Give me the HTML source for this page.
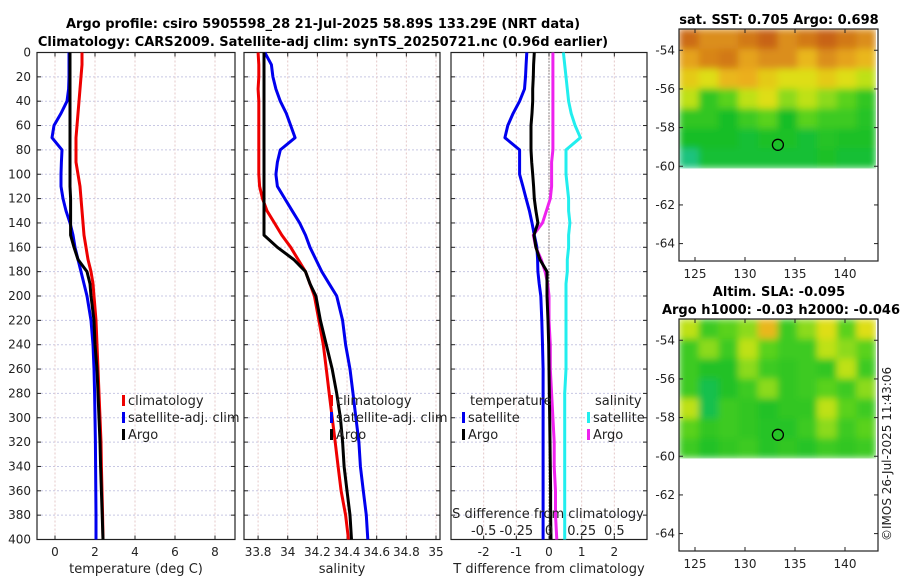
<!DOCTYPE html>
<html><head><meta charset="utf-8"><style>
body{margin:0;background:#fff;}
svg text{font-family:"DejaVu Sans","Liberation Sans",sans-serif;fill:#222;}
.tk{font-size:12px;}
.tt{font-size:13px;font-weight:bold;fill:#000;}
</style></head><body>
<svg id="chart" width="900" height="580" viewBox="0 0 900 580" xmlns="http://www.w3.org/2000/svg">
<defs>
<filter id="blur" x="0" y="0" width="1" height="1" filterUnits="objectBoundingBox"><feGaussianBlur stdDeviation="3.5" edgeMode="duplicate"/></filter>
</defs>
<text class="tt" x="323" y="28" text-anchor="middle">Argo profile: csiro 5905598_28 21-Jul-2025 58.89S 133.29E (NRT data)</text>
<text class="tt" x="323" y="46" text-anchor="middle">Climatology: CARS2009. Satellite-adj clim: synTS_20250721.nc (0.96d earlier)</text>
<g id="g"></g>
<text class="tt" x="779" y="24" text-anchor="middle">sat. SST: 0.705 Argo: 0.698</text>
<text class="tt" x="779" y="296" text-anchor="middle">Altim. SLA: -0.095</text>
<text class="tt" x="781" y="314" text-anchor="middle">Argo h1000: -0.03 h2000: -0.046</text>
<text class="tk" x="0" y="0" transform="translate(891,541) rotate(-90)">©IMOS 26-Jul-2025 11:43:06</text>
</svg>
<script>
const depths=[0,10,20,30,40,50,60,70,80,90,100,110,120,130,140,150,160,170,180,190,200,220,240,260,280,300,320,340,360,380,400];
const tClim=[1.35,1.35,1.3,1.25,1.2,1.15,1.1,1.05,1.05,1.05,1.15,1.25,1.3,1.35,1.4,1.45,1.55,1.65,1.8,1.9,1.95,2.05,2.1,2.15,2.2,2.25,2.3,2.32,2.35,2.38,2.4];
const tSat=[0.7,0.7,0.7,0.68,0.6,0.3,-0.05,-0.15,0.35,0.32,0.3,0.3,0.4,0.55,0.75,0.9,1.0,1.15,1.3,1.45,1.6,1.8,1.9,1.95,1.98,2.0,2.02,2.03,2.04,2.05,2.05];
const tArgo=[0.75,0.75,0.75,0.75,0.75,0.75,0.75,0.75,0.75,0.75,0.75,0.75,0.78,0.78,0.78,0.78,0.95,1.15,1.6,1.75,1.8,1.95,2.0,2.1,2.15,2.2,2.25,2.28,2.32,2.36,2.4];
const sClim=[33.8,33.805,33.805,33.8,33.805,33.805,33.805,33.805,33.805,33.805,33.805,33.81,33.83,33.86,33.91,33.96,34.02,34.07,34.12,34.15,34.18,34.21,34.24,34.26,34.28,34.3,34.32,34.34,34.36,34.39,34.41];
const sSat=[33.845,33.89,33.9,33.92,33.95,33.99,34.02,34.05,33.95,33.93,33.92,33.93,33.98,34.03,34.08,34.12,34.15,34.19,34.23,34.28,34.33,34.37,34.39,34.42,34.44,34.46,34.48,34.49,34.51,34.53,34.54];
const sArgo=[33.84,33.84,33.84,33.84,33.84,33.84,33.84,33.84,33.84,33.84,33.84,33.84,33.84,33.84,33.84,33.84,33.93,34.04,34.12,34.15,34.19,34.22,34.26,34.3,34.33,34.355,34.37,34.38,34.4,34.42,34.43];
const dTSat=[-0.68,-0.7,-0.72,-0.75,-0.9,-1.1,-1.26,-1.35,-0.9,-0.9,-0.9,-0.8,-0.7,-0.6,-0.52,-0.45,-0.37,-0.35,-0.34,-0.3,-0.25,-0.22,-0.2,-0.18,-0.18,-0.18,-0.18,-0.18,-0.18,-0.18,-0.18];
const dTArgo=[-0.45,-0.47,-0.48,-0.5,-0.5,-0.52,-0.55,-0.55,-0.55,-0.53,-0.5,-0.47,-0.45,-0.4,-0.34,-0.46,-0.4,-0.28,-0.06,-0.06,-0.06,-0.03,-0.01,0,0.01,0.02,0.03,0.04,0.05,0.05,0.06];
const dSSat=[0.11,0.12,0.13,0.14,0.15,0.17,0.2,0.24,0.13,0.13,0.13,0.14,0.15,0.15,0.16,0.15,0.15,0.14,0.14,0.13,0.13,0.13,0.13,0.13,0.12,0.12,0.12,0.12,0.12,0.12,0.12];
const dSArgo=[0.03,0.03,0.03,0.03,0.03,0.03,0.03,0.03,0.03,0.02,0.02,0.02,0.01,-0.02,-0.05,-0.12,-0.1,-0.06,-0.03,-0.01,0,0.0,0.01,0.01,0.02,0.03,0.04,0.04,0.05,0.05,0.06];
const depthTicks=[0,20,40,60,80,100,120,140,160,180,200,220,240,260,280,300,320,340,360,380,400];
const tTicks=[0,2,4,6,8];
const sTicks=[33.8,34,34.2,34.4,34.6,34.8,35];
const sTickLabels=["33.8","34","34.2","34.4","34.6","34.8","35"];
const dTTicks=[-2,-1,0,1,2];
const dSTicks=[-0.5,-0.25,0,0.25,0.5];
const lonTicks=[125,130,135,140];
const latTicks=[-54,-56,-58,-60,-62,-64];
const sstGrid=[
[.88,.8,.8,.85,.9,.8,.85,.9,.85,.8],
[.75,.82,.85,.75,.8,.8,.7,.8,.75,.7],
[.65,.6,.7,.72,.65,.6,.6,.65,.6,.55],
[.55,.38,.45,.55,.6,.5,.55,.5,.45,.38],
[.38,.38,.33,.4,.45,.33,.45,.4,.4,.36],
[.33,.33,.33,.32,.34,.34,.32,.36,.34,.34],
[.26,.32,.32,.32,.32,.32,.32,.34,.32,.32]];
const slaGrid=[
[.55,.4,.45,.5,.7,.4,.5,.6,.45,.6],
[.4,.5,.4,.55,.45,.4,.4,.55,.5,.45],
[.4,.35,.35,.5,.4,.38,.4,.38,.55,.4],
[.4,.3,.35,.4,.5,.38,.4,.45,.4,.5],
[.55,.3,.4,.38,.35,.38,.38,.55,.45,.4],
[.45,.38,.4,.38,.36,.36,.4,.5,.4,.45],
[.4,.35,.38,.4,.36,.38,.36,.4,.38,.4]];
const argoPos=[133.29,-58.89];

const NS='http://www.w3.org/2000/svg';
const G=document.getElementById('g');
function el(t,a,p){const e=document.createElementNS(NS,t);for(const k in a)e.setAttribute(k,a[k]);(p||G).appendChild(e);return e;}
const Y0=52.5,Y1=539.5;
const yD=d=>Y0+d/400*(Y1-Y0);
function lin(d0,d1,r0,r1){return v=>r0+(v-d0)/(d1-d0)*(r1-r0);}
const panels=[
 {x0:37,x1:235,x:lin(-0.9,9,37,235),ticks:tTicks,labels:tTicks.map(String),title:'temperature (deg C)',name:'temperature-panel'},
 {x0:244,x1:440,x:lin(33.705,35.027,244,440),ticks:sTicks,labels:sTickLabels,title:'salinity',name:'salinity-panel'},
 {x0:451,x1:647,x:lin(-3,3,451,647),ticks:dTTicks,labels:dTTicks.map(String),title:'T difference from climatology',name:'difference-panel'}];
panels.forEach((p,i)=>{
  const g=el('g',{});
  
  
  depthTicks.forEach(d=>{el('line',{x1:p.x0,x2:p.x1,y1:yD(d),y2:yD(d),stroke:'#c8c8e4','stroke-dasharray':'2,2','stroke-width':1},g);
    el('line',{x1:p.x0,x2:p.x0+4,y1:yD(d),y2:yD(d),stroke:'#222'},g);el('line',{x1:p.x1,x2:p.x1-4,y1:yD(d),y2:yD(d),stroke:'#222'},g);});
  p.ticks.forEach((t,j)=>{const x=p.x(t);
    el('line',{x1:x,x2:x,y1:Y0,y2:Y1,stroke:'#e4c8c8','stroke-dasharray':'2,2'},g);
    el('line',{x1:x,x2:x,y1:Y1,y2:Y1-4,stroke:'#222'},g);el('line',{x1:x,x2:x,y1:Y0,y2:Y0+4,stroke:'#222'},g);
    const tx=el('text',{x:x,y:556,'text-anchor':'middle',class:'tk'},g);tx.textContent=p.labels[j];
    
    });
  el('rect',{x:p.x0,y:Y0,width:p.x1-p.x0,height:Y1-Y0,fill:'none',stroke:'#222','stroke-width':1.2},g);
  const tt=el('text',{x:(p.x0+p.x1)/2,y:573,'text-anchor':'middle','font-size':'13px'},g);tt.textContent=p.title;
  
  
});
depthTicks.forEach(d=>{const t=el('text',{x:31,y:yD(d)+4,'text-anchor':'end',class:'tk'});t.textContent=d;
  
  });
el('line',{x1:panels[2].x(0),x2:panels[2].x(0),y1:Y0,y2:Y1,stroke:'#333','stroke-dasharray':'1,2'});
function line(vals,xf,col,name){const pts=vals.map((v,i)=>xf(v).toFixed(1)+','+yD(depths[i]).toFixed(1)).join(' ');
  const e=el('polyline',{points:pts,fill:'none',stroke:col,'stroke-width':3,'stroke-linejoin':'round'});
  
  }
const dS=lin(-0.75,0.75,451,647);
line(tSat,panels[0].x,'#0000ee','temp-satellite-line');line(tClim,panels[0].x,'#ee0000','temp-climatology-line');line(tArgo,panels[0].x,'#000','temp-argo-line');
line(sSat,panels[1].x,'#0000ee','sal-satellite-line');line(sClim,panels[1].x,'#ee0000','sal-climatology-line');line(sArgo,panels[1].x,'#000','sal-argo-line');
line(dTSat,panels[2].x,'#0000ee','dtemp-satellite-line');line(dSSat,dS,'#22eeee','dsal-satellite-line');line(dSArgo,dS,'#ee22ee','dsal-argo-line');line(dTArgo,panels[2].x,'#000','dtemp-argo-line');
const sl=el('text',{x:548,y:518,'text-anchor':'middle','font-size':'13px'});sl.textContent='S difference from climatology';


dSTicks.forEach(t=>{const e=el('text',{x:dS(t),y:535,'text-anchor':'middle','font-size':'13px'});e.textContent=String(t);
  
  });
function leg(x,y,col,label){const g=el('g',{});
  
  
  el('rect',{x:x,y:y-10,width:3,height:11,fill:col},g);const t=el('text',{x:x+6,y:y,'font-size':'13px'},g);t.textContent=label;}
leg(122,405,'#ee0000','climatology');leg(122,422,'#0000ee','satellite-adj. clim');leg(122,439,'#000','Argo');
leg(330,405,'#ee0000','climatology');leg(330,422,'#0000ee','satellite-adj. clim');leg(330,439,'#000','Argo');
const lt=el('text',{x:470,y:405,'font-size':'13px'});lt.textContent='temperature';


const ls=el('text',{x:595,y:405,'font-size':'13px'});ls.textContent='salinity';


leg(462,422,'#0000ee','satellite');leg(462,439,'#000','Argo');
leg(587,422,'#22eeee','satellite');leg(587,439,'#ee22ee','Argo');
function cmap(v){const st=[[0.2,[32,200,200]],[0.33,[20,190,40]],[0.45,[90,210,30]],[0.58,[220,230,20]],[0.72,[235,175,30]],[0.9,[200,100,20]]];
  if(v<=st[0][0])return 'rgb('+st[0][1]+')';
  for(let i=1;i<st.length;i++){if(v<=st[i][0]){const f=(v-st[i-1][0])/(st[i][0]-st[i-1][0]);const c=st[i-1][1].map((a,k)=>Math.round(a+(st[i][1][k]-a)*f));return 'rgb('+c+')';}}
  return 'rgb('+st[st.length-1][1]+')';}
function map(top,grid,name){
  const bx0=679,bx1=878,by0=top,by1=top+232;
  const lonX=lin(123.4,143.3,bx0,bx1);const latY=lin(-52.9,-64.9,by0,by1);
  const g=el('g',{});
  
  
  const img=el('g',{filter:'url(#blur)'},g);
  
  
  const la0=-52.9,la1=-60.1,lo0=123.4,lo1=143.1;
  const nr=grid.length,nc=grid[0].length;
  grid.forEach((row,r)=>row.forEach((v,c)=>{
    const x=lonX(lo0+(lo1-lo0)*c/nc),x2=lonX(lo0+(lo1-lo0)*(c+1)/nc);
    const y=latY(la0+(la1-la0)*r/nr),y2=latY(la0+(la1-la0)*(r+1)/nr);
    const e=el('rect',{x:x,y:y,width:Math.min(x2-x+0.5,lonX(lo1)-x),height:Math.min(y2-y+0.5,latY(la1)-y),fill:cmap(v)},img);
    
    }));
  el('rect',{x:bx0,y:by0,width:bx1-bx0,height:by1-by0,fill:'none',stroke:'#222','stroke-width':1.2},g);
  latTicks.forEach(t=>{const y=latY(t);el('line',{x1:bx0,x2:bx0+4,y1:y,y2:y,stroke:'#222'},g);el('line',{x1:bx1,x2:bx1-4,y1:y,y2:y,stroke:'#222'},g);
    const e=el('text',{x:bx0-4,y:y+4,'text-anchor':'end',class:'tk'},g);e.textContent=t;
    
    });
  lonTicks.forEach(t=>{const x=lonX(t);el('line',{x1:x,x2:x,y1:by1,y2:by1-4,stroke:'#222'},g);el('line',{x1:x,x2:x,y1:by0,y2:by0+4,stroke:'#222'},g);
    const e=el('text',{x:x,y:by1+17,'text-anchor':'middle',class:'tk'},g);e.textContent=t;
    
    });
  const c=el('circle',{cx:lonX(argoPos[0]),cy:latY(argoPos[1]),r:5.5,fill:'none',stroke:'#000','stroke-width':1.3},g);
  
  
}
map(29,sstGrid,'sst-map');
map(319,slaGrid,'sla-map');
</script>
</body></html>
